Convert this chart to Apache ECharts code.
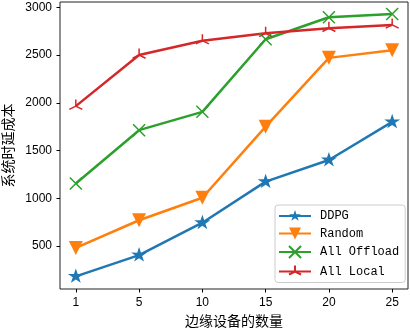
<!DOCTYPE html>
<html>
<head>
<meta charset="utf-8">
<script src="https://cdn.jsdelivr.net/npm/echarts@6/dist/echarts.min.js"></script>
<style>
    html, body { margin: 0; padding: 0; background: #fff; }
    #chart-container { width: 410px; height: 332px; }
</style>
</head>
<body>
<div id="chart-container"></div>
<script>
// number of edge devices (x categories)
const deviceCounts = ['1', '5', '10', '15', '20', '25'];

// system latency cost per method
const ddpg = [182, 405, 744, 1174, 1401, 1800];
const random = [480, 770, 1005, 1750, 2470, 2550];
const allOffload = [1154, 1713, 1905, 2665, 2895, 2930];
const allLocal = [1965, 2500, 2650, 2727, 2780, 2815];

const yTicks = [500, 1000, 1500, 2000, 2500, 3000];

const seriesNames = ['DDPG', 'Random', 'All Offload', 'All Local'];
const colors = ['#1f77b4', '#ff7f0e', '#2ca02c', '#d62728'];

// marker shapes (matplotlib-ish: *, v, x, tri_up)
const starPath = 'path://M50,0 L61.17,34.63 L97.55,34.55 L68.07,55.87 L79.39,90.45 L50,69 L20.61,90.45 L31.93,55.87 L2.45,34.55 L38.83,34.63 Z M50,100 L50,100';
const xPath = 'path://M0,0 L100,100 M0,100 L100,0';
const triPath = 'path://M50,50 L50,0 M50,50 L6.7,75 M50,50 L93.3,75 M50,100 L50,100';

const tickFont = 'Liberation Sans, Arial, sans-serif';
const cjkFont = '"Noto Sans CJK SC", sans-serif';

function toPoints(values) {
    return values.map((v, i) => [i, v]);
}

function makeSeries(name, values, color, symbol, symbolSize, stroked) {
    const s = {
        name: name,
        type: 'line',
        data: toPoints(values),
        symbol: symbol,
        symbolSize: symbolSize,
        lineStyle: { color: color, width: 2.5 },
        itemStyle: { color: color },
        emphasis: { disabled: true },
        z: 2
    };
    if (stroked) {
        s.itemStyle = { color: color, borderColor: color, borderWidth: 1.5 };
    }
    return s;
}

const chart = echarts.init(document.getElementById('chart-container'), null, { renderer: 'canvas' });

const option = {
    animation: false,
    grid: {
        left: 60,
        top: 2,
        right: 2,
        bottom: 43,
        containLabel: false,
        outerBoundsMode: 'none',
        show: true,
        borderColor: '#222',
        borderWidth: 1,
        backgroundColor: 'transparent'
    },
    xAxis: {
        type: 'value',
        min: -0.25,
        max: 5.25,
        name: '边缘设备的数量',
        nameLocation: 'middle',
        nameGap: 21,
        nameTextStyle: { color: '#000', fontSize: 14, fontFamily: cjkFont },
        axisLine: { show: false, onZero: false },
        splitLine: { show: false },
        axisTick: {
            show: true,
            customValues: [0, 1, 2, 3, 4, 5],
            length: 3.5,
            lineStyle: { color: '#000', width: 1 }
        },
        axisLabel: {
            customValues: [0, 1, 2, 3, 4, 5],
            formatter: v => deviceCounts[Math.round(v)],
            color: '#000',
            fontSize: 12,
            fontFamily: tickFont,
            margin: 8
        }
    },
    yAxis: {
        type: 'value',
        min: 50,
        max: 3055,
        name: '系统时延成本',
        nameLocation: 'middle',
        nameGap: 41,
        nameTextStyle: { color: '#000', fontSize: 14, fontFamily: cjkFont },
        axisLine: { show: false, onZero: false },
        splitLine: { show: false },
        axisTick: {
            show: true,
            customValues: yTicks,
            length: 3.5,
            lineStyle: { color: '#000', width: 1 }
        },
        axisLabel: {
            customValues: yTicks,
            formatter: v => String(v),
            color: '#000',
            fontSize: 12,
            fontFamily: tickFont,
            margin: 8
        }
    },
    legend: {
        orient: 'vertical',
        left: 275,
        top: 205,
        padding: [5, 6, 4, 3],
        itemWidth: 32,
        itemHeight: 15,
        itemGap: 5.5,
        borderColor: '#cccccc',
        borderWidth: 1,
        borderRadius: 3,
        backgroundColor: 'rgba(255,255,255,0.8)',
        textStyle: {
            color: '#000',
            fontSize: 12,
            fontFamily: 'Liberation Mono, DejaVu Sans Mono, monospace',
            padding: [0, 0, 0, 4]
        },
        data: seriesNames
    },
    series: [
        makeSeries(seriesNames[0], ddpg, colors[0], starPath, 16, false),
        makeSeries(seriesNames[1], random, colors[1], 'triangle', 14, false),
        makeSeries(seriesNames[2], allOffload, colors[2], xPath, 12, true),
        makeSeries(seriesNames[3], allLocal, colors[3], triPath, 13, true)
    ]
};
option.series[1].symbolRotate = 180;

chart.setOption(option);
</script>
</body>
</html>
